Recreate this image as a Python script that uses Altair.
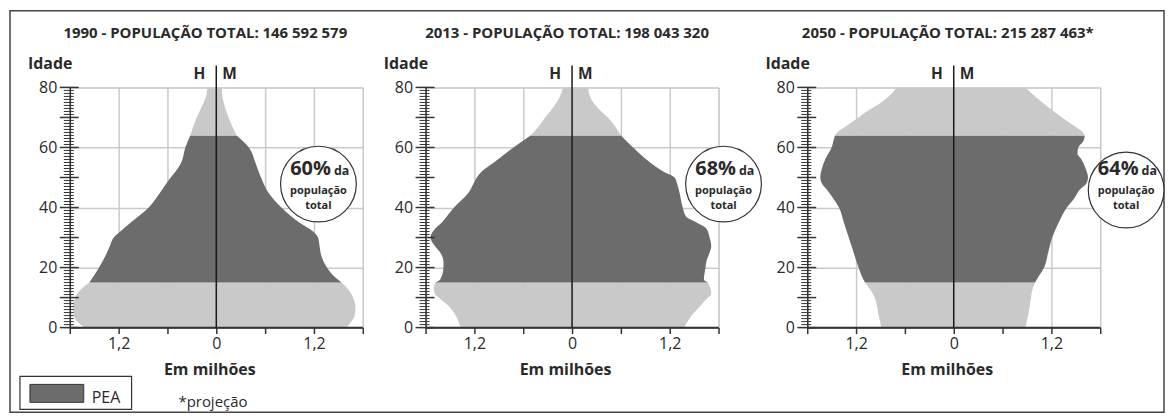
import altair as alt
import pandas as pd

# ------------------------------------------------------------------ data
titulos = [
    "1990 - POPULAÇÃO TOTAL: 146 592 579",
    "2013 - POPULAÇÃO TOTAL: 198 043 320",
    "2050 - POPULAÇÃO TOTAL: 215 287 463*",
]
percentuais_pea = ["60%", "68%", "64%"]

# population by age (millions) read from the pyramids: men (left) / women (right)
idades_1990 = [0, 2, 4, 7, 10, 12, 15, 17, 20, 24, 27, 30, 32, 35, 40, 45, 50, 52, 55, 60, 64, 70, 75, 77, 80]
homens_1990 = [1.62, 1.71, 1.75, 1.76, 1.73, 1.69, 1.56, 1.51, 1.44, 1.36, 1.31, 1.26, 1.18, 1.05, 0.83, 0.69,
               0.56, 0.50, 0.43, 0.38, 0.32, 0.24, 0.155, 0.125, 0.11]
mulheres_1990 = [1.60, 1.66, 1.70, 1.71, 1.68, 1.64, 1.54, 1.45, 1.36, 1.29, 1.27, 1.25, 1.19, 1.02, 0.80, 0.64,
                 0.55, 0.52, 0.48, 0.40, 0.25, 0.15, 0.09, 0.075, 0.07]

idades_2013 = [0, 4, 7, 10, 11, 13, 15, 16, 20, 22, 25, 27, 30, 33, 35, 37, 40, 45, 48, 50, 52, 55, 60, 64,
               67, 70, 72, 75, 77, 80]
homens_2013 = [1.37, 1.43, 1.51, 1.64, 1.68, 1.70, 1.68, 1.62, 1.58, 1.58, 1.62, 1.68, 1.74, 1.68, 1.60, 1.54,
               1.45, 1.27, 1.21, 1.17, 1.11, 0.96, 0.72, 0.51, 0.41, 0.33, 0.27, 0.19, 0.15, 0.11]
mulheres_2013 = [1.38, 1.47, 1.57, 1.67, 1.71, 1.70, 1.67, 1.62, 1.64, 1.65, 1.69, 1.71, 1.69, 1.65, 1.53, 1.40,
                 1.36, 1.32, 1.29, 1.26, 1.12, 0.96, 0.75, 0.60, 0.53, 0.44, 0.36, 0.26, 0.22, 0.20]

idades_2050 = [0, 5, 10, 12, 15, 16, 20, 25, 30, 35, 40, 43, 46, 48, 50, 53, 56, 58, 60, 62, 64, 65, 67, 70,
               72, 75, 77, 80]
homens_2050 = [0.89, 0.93, 0.97, 1.01, 1.09, 1.11, 1.17, 1.23, 1.29, 1.35, 1.41, 1.48, 1.56, 1.62, 1.64, 1.62,
               1.58, 1.54, 1.50, 1.48, 1.46, 1.43, 1.33, 1.17, 1.07, 0.89, 0.80, 0.70]
mulheres_2050 = [0.88, 0.92, 0.95, 0.96, 1.00, 1.02, 1.11, 1.16, 1.21, 1.29, 1.39, 1.48, 1.55, 1.63, 1.65, 1.62,
                 1.57, 1.52, 1.53, 1.59, 1.61, 1.59, 1.49, 1.33, 1.23, 1.09, 1.00, 0.88]

faixas = ["0-14", "15-64", "65+"]
limite_pea = [15, 64]
marcas_x = [-1.8, -1.2, -0.6, 0, 0.6, 1.2, 1.8]
marcas_idade = list(range(0, 81))
grade_idade = list(range(0, 81, 10))

# ------------------------------------------------------------------ style
FONT = "Open Sans"
TXT = "#2a2a2a"
LIGHT = "#c9c9c9"
DARK = "#6c6c6c"
GRID = "#cacaca"
AXC = "#333333"
W, H = 294, 241

xscale = alt.Scale(domain=[-1.8, 1.8], nice=False, zero=False)
yscale = alt.Scale(domain=[0, 80], nice=False, zero=False)


def texto(txt, x, y, size, weight="bold", align="center", baseline="alphabetic", color=TXT):
    return alt.Chart(pd.DataFrame({"t": [txt]})).mark_text(
        font=FONT, fontSize=size, fontWeight=weight, align=align, baseline=baseline, color=color
    ).encode(text="t:N", x=alt.value(x), y=alt.value(y))


def painel(i, idades, homens, mulheres, titulo_x, circ_x, circ_y, extra=None):
    rows = []
    for a, h, m in zip(idades, homens, mulheres):
        segs = []
        if a <= limite_pea[0]:
            segs.append(faixas[0])
        if limite_pea[0] <= a <= limite_pea[1]:
            segs.append(faixas[1])
        if a >= limite_pea[1]:
            segs.append(faixas[2])
        for s in segs:
            rows.append({"idade": a, "esq": -h, "dir": m, "faixa": s})
    df = pd.DataFrame(rows)

    xaxis = alt.Axis(
        values=marcas_x,
        labelExpr="abs(datum.value) < 0.01 ? '0' : (abs(abs(datum.value) - 1.2) < 0.01 ? "
                  "replace(format(abs(datum.value), '.1f'), '.', ',') : '')",
        title="Em milhões", titleFont=FONT, titleFontSize=16, titleFontWeight="bold", titleColor=TXT,
        titlePadding=10, titleX=W / 2 - 7,
        labelFont=FONT, labelFontSize=16, labelColor=TXT, labelPadding=2,
        labelFlush=False, labelOverlap=False,
        tickSize=6, tickWidth=1.5, tickColor=AXC, domainColor=AXC, domainWidth=1.5,
        grid=True, gridColor=GRID, gridWidth=1.5,
    )
    yaxis = alt.Axis(
        values=grade_idade, labelExpr="datum.value % 20 === 0 ? datum.label : ''",
        title=None, ticks=False, labelPadding=13, labelFont=FONT, labelFontSize=16, labelColor=TXT,
        domainColor=AXC, domainWidth=1.5, grid=True, gridColor=GRID, gridWidth=1.5,
    )

    area = alt.Chart(df).mark_area(orient="horizontal", interpolate="monotone").encode(
        y=alt.Y("idade:Q", scale=yscale, axis=yaxis),
        x=alt.X("esq:Q", scale=xscale, axis=xaxis, stack=None),
        x2="dir:Q",
        color=alt.Color("faixa:N", scale=alt.Scale(domain=faixas, range=[LIGHT, DARK, LIGHT]), legend=None),
        detail="faixa:N",
    )
    um = pd.DataFrame({"a": [0]})
    base = alt.Chart(um).mark_rule(color=AXC, strokeWidth=1.5).encode(
        y=alt.datum(0, scale=yscale), x=alt.datum(-1.8, scale=xscale), x2=alt.datum(1.8)
    )
    centro = alt.Chart(um).mark_rule(color="#1a1a1a", strokeWidth=1.5).encode(
        x=alt.datum(0, scale=xscale), y=alt.value(-22), y2=alt.value(H)
    )
    menores = alt.Chart(pd.DataFrame({"v": marcas_idade})).mark_rule(color=AXC, strokeWidth=1).encode(
        y=alt.Y("v:Q", scale=yscale, axis=yaxis), x=alt.value(-6), x2=alt.value(4)
    )
    maiores = alt.Chart(pd.DataFrame({"v": grade_idade})).mark_rule(color=AXC, strokeWidth=1.5).encode(
        y=alt.Y("v:Q", scale=yscale, axis=yaxis), x=alt.value(-10), x2=alt.value(9)
    )
    circulo = alt.Chart(um).mark_point(
        shape="circle", filled=True, fill="white", stroke="#333333", strokeWidth=1.2, opacity=1, size=76 * 76
    ).encode(x=alt.value(circ_x), y=alt.value(circ_y))

    layers = []
    if extra is not None:
        layers += extra
    layers += [
        area, base, menores, maiores, centro,
        texto(titulos[i], titulo_x, -50, 15),
        texto("Idade", -42, -18, 16, align="left"),
        texto("H", W / 2 - 11, -8, 15.5, align="right"),
        texto("M", W / 2 + 6, -8, 15.5, align="left"),
        circulo,
        texto(percentuais_pea[i], circ_x + 12.5, 88, 20, align="right"),
        texto("da", circ_x + 15.5, 88, 12.5, align="left"),
        texto("população", circ_x, 107, 11),
        texto("total", circ_x, 122, 11),
    ]
    return alt.layer(*layers).properties(width=W, height=H)


um = pd.DataFrame({"a": [0]})
moldura = alt.Chart(um).mark_rect(filled=False, stroke="#444444", strokeWidth=1.5).encode(
    x=alt.value(-60), x2=alt.value(1098), y=alt.value(-77), y2=alt.value(326)
)
caixa = alt.Chart(um).mark_rect(fill="white", stroke="#333333", strokeWidth=1.2).encode(
    x=alt.value(-50), x2=alt.value(62), y=alt.value(290), y2=alt.value(323)
)
amostra = alt.Chart(um).mark_rect(fill=DARK, stroke="#333333", strokeWidth=1).encode(
    x=alt.value(-40), x2=alt.value(14), y=alt.value(298), y2=alt.value(316)
)
extra1 = [
    moldura, caixa, amostra,
    texto("PEA", 22, 317, 16, weight="normal", align="left"),
    texto("*projeção", 109, 321, 15, weight="normal", align="left"),
]

p1 = painel(0, idades_1990, homens_1990, mulheres_1990, 136, 249.5, 97, extra1)
p2 = painel(1, idades_2013, homens_2013, mulheres_2013, 142, 299, 97)
p3 = painel(2, idades_2050, homens_2050, mulheres_2050, 141, 320, 103)


def espaco(w):
    return alt.Chart(um).mark_point(opacity=0).properties(width=w, height=H)


chart = alt.hconcat(p1, espaco(63), p2, espaco(89), p3, spacing=0, bounds="flush").properties(
    padding=0
).configure_view(stroke=None).configure(font=FONT)

chart.save("out.html", embed_options={"renderer": "svg", "actions": False})
